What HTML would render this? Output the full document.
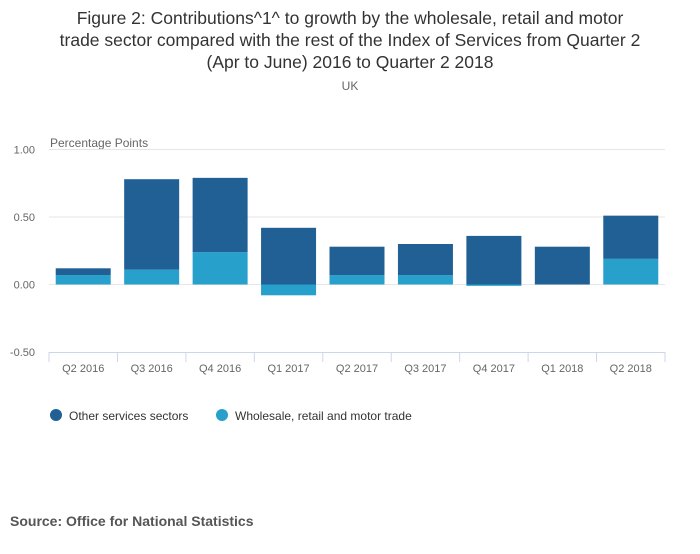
<!DOCTYPE html>
<html><head><meta charset="utf-8"><style>
body{margin:0;background:#fff;font-family:"Liberation Sans",sans-serif;}
</style></head><body>
<svg width="700" height="549" xmlns="http://www.w3.org/2000/svg" font-family="Liberation Sans, sans-serif">
<text x="350" y="24" text-anchor="middle" font-size="17.5" fill="#333">Figure 2: Contributions^1^ to growth by the wholesale, retail and motor</text>
<text x="350" y="46" text-anchor="middle" font-size="17.5" fill="#333">trade sector compared with the rest of the Index of Services from Quarter 2</text>
<text x="350" y="68" text-anchor="middle" font-size="17.5" fill="#333">(Apr to June) 2016 to Quarter 2 2018</text>
<text x="350" y="90" text-anchor="middle" font-size="12" fill="#666">UK</text>
<text x="50" y="147" font-size="12" fill="#666">Percentage Points</text>
<g id="grid"></g><g id="bars"></g><g id="xaxis"></g>
<g>
<circle cx="56" cy="415" r="6" fill="#206095"/>
<text x="69" y="420" font-size="12" fill="#333">Other services sectors</text>
<circle cx="222" cy="415" r="6" fill="#27a0cc"/>
<text x="235" y="420" font-size="12" fill="#333">Wholesale, retail and motor trade</text>
</g>
<text x="10" y="526" font-size="14" font-weight="bold" fill="#555">Source: Office for National Statistics</text>
</svg>
<script>
const categories=["Q2 2016","Q3 2016","Q4 2016","Q1 2017","Q2 2017","Q3 2017","Q4 2017","Q1 2018","Q2 2018"];
const wholesale=[0.07,0.11,0.24,-0.08,0.07,0.07,-0.01,0.0,0.19];
const other=[0.05,0.67,0.55,0.42,0.21,0.23,0.36,0.28,0.32];
const yTicks=[1.0,0.5,0.0,-0.5];
const yTickLabels=["1.00","0.50","0.00","-0.50"];
const NS="http://www.w3.org/2000/svg";
const L=49,R=665,yMin=-0.5,yMax=1.0,plotTop=149.5,bot=352;
const y=v=>bot-(v-yMin)/(yMax-yMin)*(bot-plotTop);
const cw=(R-L)/categories.length;
const x=i=>L+i*cw;
function mk(t,a,p){const e=document.createElementNS(NS,t);for(const k in a)e.setAttribute(k,a[k]);p.appendChild(e);return e;}
const g=document.getElementById('grid'),b=document.getElementById('bars'),xa=document.getElementById('xaxis');
yTicks.forEach((v,i)=>{
 if(v!==yMin){const l=mk('line',{x1:L,x2:R,y1:y(v),y2:y(v),stroke:'#e6e6e6'},g);
 
 }
 const t=mk('text',{x:35,y:y(v)+4,'text-anchor':'end','font-size':11,fill:'#666'},g);t.textContent=yTickLabels[i];
 
 
});
const bw=55;
categories.forEach((c,i)=>{
 const cx=x(i)+cw/2;
 const w=wholesale[i],o=other[i];
 let posBase=0,negBase=0;
 [[w,'#27a0cc','bar-wholesale'],[o,'#206095','bar-other']].forEach(([v,col,nm])=>{
  let y0,y1;
  if(v>=0){y0=y(posBase+v);y1=y(posBase);posBase+=v;}else{y0=y(negBase);y1=y(negBase+v);negBase+=v;}
  const r=mk('rect',{x:cx-bw/2,y:y0,width:bw,height:Math.max(0,y1-y0),fill:col},b);
  
  
 });
 const t=mk('text',{x:cx,y:372,'text-anchor':'middle','font-size':11,fill:'#666'},xa);t.textContent=c;
 
 
});
const ax=mk('line',{x1:L,x2:R,y1:bot+0.5,y2:bot+0.5,stroke:'#ccd6eb'},xa);


for(let i=0;i<=categories.length;i++){const tk=mk('line',{x1:x(i),x2:x(i),y1:bot,y2:bot+10,stroke:'#ccd6eb'},xa);
 
 }
</script>
</body></html>
